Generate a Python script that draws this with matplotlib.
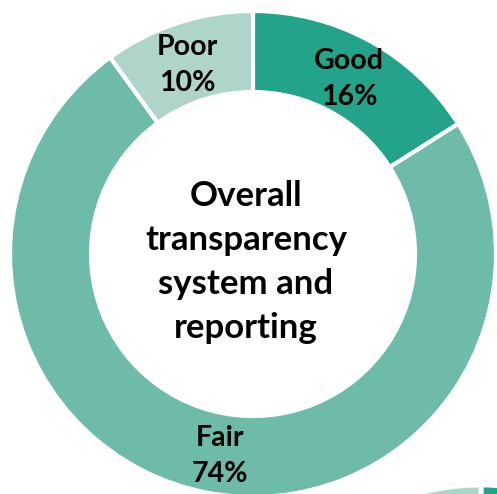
import matplotlib.pyplot as plt

# ratings for the overall transparency system (clockwise from 12 o'clock)
labels = ["Good", "Fair", "Poor"]
shares = [16, 74, 10]
colors = ["#22a38a", "#6fbbaa", "#afd5ca"]
centre_title = "Overall\ntransparency\nsystem and\nreporting"

# neighbouring chart that peeks in at the bottom right corner (values guessed)
next_shares = [18, 70, 12]

plt.rcParams['font.family'] = ['Lato', 'DejaVu Sans']

fig = plt.figure(figsize=(4.97, 4.94), dpi=100)
ax = fig.add_axes([0, 0, 1, 1])

wedges, _ = ax.pie(shares, colors=colors, startangle=90, counterclock=False,
                   radius=243, center=(253, 240),
                   wedgeprops=dict(width=81, edgecolor='white', linewidth=3))

ax.pie(next_shares, colors=colors, startangle=90, counterclock=False,
       radius=243, center=(481, -234),
       wedgeprops=dict(width=81, edgecolor='white', linewidth=3.5))

# slice labels
label_pos = {"Good": (349, 415), "Fair": (220, 38), "Poor": (187, 429)}
for lab, val in zip(labels, shares):
    x, y = label_pos[lab]
    ax.text(x, y, f"{lab}\n{val}%", ha='center', va='center', fontsize=20.5,
            fontweight='bold', color='black', linespacing=1.52)

ax.text(246, 232, centre_title, ha='center', va='center', fontsize=25,
        fontweight='bold', color='black', linespacing=1.45)

ax.set_xlim(0, 497)
ax.set_ylim(0, 494)
ax.set_aspect('equal')
ax.axis('off')

fig.savefig('out.png', dpi=100)
